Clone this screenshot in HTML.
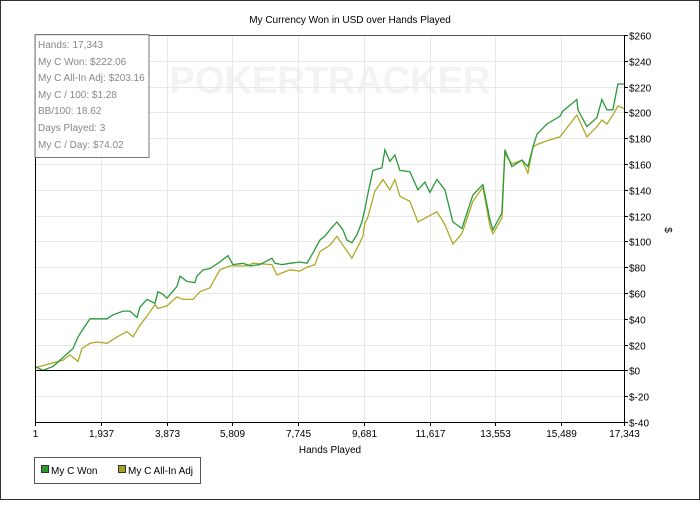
<!DOCTYPE html>
<html><head><meta charset="utf-8"><style>
body{margin:0;background:#fff;}
svg text{font-family:"Liberation Sans",sans-serif;}
</style></head><body>
<svg width="700" height="500" xmlns="http://www.w3.org/2000/svg">
<rect x="0.5" y="0.5" width="699" height="499" fill="#fff" stroke="#333"/>
<text x="350" y="23" font-size="10" text-anchor="middle" fill="#000">My Currency Won in USD over Hands Played</text>
<text x="330" y="93" font-size="38" font-weight="bold" text-anchor="middle" fill="#f3f3f3">POKERTRACKER</text>
<g id="grid"></g>
<g id="series"></g>
<g id="axes"></g>
<g>
<rect x="35" y="34.5" width="114" height="123" fill="#fff" fill-opacity="0.85" stroke="#777"/>
<g font-size="10" fill="#888">
<text x="38" y="48">Hands: 17,343</text>
<text x="38" y="65">My C Won: $222.06</text>
<text x="38" y="81">My C All-In Adj: $203.16</text>
<text x="38" y="98">My C / 100: $1.28</text>
<text x="38" y="114">BB/100: 18.62</text>
<text x="38" y="131">Days Played: 3</text>
<text x="38" y="148">My C / Day: $74.02</text>
</g></g>
<text x="330" y="453" font-size="10" text-anchor="middle">Hands Played</text>
<text x="665" y="230" font-size="10" text-anchor="middle" transform="rotate(90 665 230)">$</text>
<g>
<rect x="34.5" y="457.5" width="166" height="26" fill="#fff" stroke="#555"/>
<g><rect x="41.5" y="465.5" width="7" height="7" fill="#2a9a2a" stroke="#333"/><text x="51" y="474" font-size="10">My C Won</text></g>
<g><rect x="118.5" y="465.5" width="7" height="7" fill="#a3a320" stroke="#333"/><text x="128" y="474" font-size="10">My C All-In Adj</text></g>
</g>
</svg>
<script>
const wonHands=[1,236,530,824,1119,1266,1413,1619,1914,2120,2296,2591,2797,3003,3091,3297,3533,3621,3768,3886,4180,4269,4475,4710,4769,4946,5152,5446,5682,5829,6124,6330,6624,6977,7066,7272,7507,7802,8008,8184,8390,8538,8685,8891,9068,9185,9332,9480,9627,9715,9803,9950,10216,10304,10451,10598,10746,11040,11275,11481,11629,11835,12070,12306,12571,12895,13189,13395,13484,13749,13837,14043,14338,14514,14661,14779,15074,15456,15545,15957,15986,16251,16545,16692,16840,17016,17163,17343];
const wonValues=[3,0,3,10,17,26,32,40,40,40,43,46,46,41,49,55,52,61,59,56,65,73,69,68,73,78,79,84,89,82,83,81,82,87,83,82,83,84,83,91,101,104,109,115,109,101,99,105,115,125,137,155,157,171,162,167,155,154,140,146,138,148,140,115,110,136,144,117,109,122,171,158,163,158,173,183,191,197,201,210,202,189,196,210,202,202,222,222];
const allInHands=[1,824,1030,1266,1384,1619,1825,2120,2414,2708,2885,3091,3297,3533,3621,3886,4180,4357,4652,4858,5152,5446,5741,6241,6418,6977,7124,7507,7802,8008,8243,8390,8685,8891,9068,9332,9568,9656,9715,9803,10010,10245,10451,10598,10746,11040,11275,11629,11835,12070,12306,12571,12895,13189,13395,13484,13749,13837,14043,14338,14514,14661,14779,15074,15456,15957,16251,16545,16692,16840,17016,17163,17343];
const allInValues=[2,8,12,7,17,21,22,21,26,30,26,35,42,51,48,50,57,55,55,61,64,78,81,81,83,82,74,78,77,80,82,92,97,104,97,87,99,104,114,119,139,148,140,148,135,131,115,120,123,113,98,106,131,142,112,106,118,168,160,163,153,173,175,178,181,198,181,189,194,191,198,205,203];
const xTicks=[1,1937,3873,5809,7745,9681,11617,13553,15489,17343];
const xTickLabels=["1","1,937","3,873","5,809","7,745","9,681","11,617","13,553","15,489","17,343"];
const yTicks=[-40,-20,0,20,40,60,80,100,120,140,160,180,200,220,240,260];

const L=35,R=624,T=35,B=422,XMIN=1,XMAX=17343,YMIN=-40,YMAX=260;
const xs=h=>L+(h-XMIN)/(XMAX-XMIN)*(R-L);
const ys=v=>B-(v-YMIN)/(YMAX-YMIN)*(B-T);
const NS="http://www.w3.org/2000/svg";
function mk(tag,attrs,parent){const e=document.createElementNS(NS,tag);for(const k in attrs)e.setAttribute(k,attrs[k]);parent.appendChild(e);return e;}
const grid=document.getElementById('grid'),axes=document.getElementById('axes'),series=document.getElementById('series');
xTicks.forEach((t,i)=>{const x=Math.round(xs(t))+0.5;
 const g=mk('line',{x1:x,x2:x,y1:T,y2:B,stroke:'#e8e8e8'},grid);
 
 
 mk('line',{x1:x,x2:x,y1:B,y2:B+4,stroke:'#000'},axes);
 const tx=mk('text',{x:x,y:B+15,'font-size':10,'text-anchor':'middle'},axes);tx.textContent=xTickLabels[i];
 
 
});
yTicks.forEach(t=>{const y=Math.round(ys(t))+0.5;
 const g=mk('line',{x1:L,x2:R,y1:y,y2:y,stroke:t===0?'#000':'#e8e8e8'},t===0?axes:grid);
 
 
 mk('line',{x1:R,x2:R+4,y1:y,y2:y,stroke:'#000'},axes);
 const tx=mk('text',{x:R+5,y:y+4,'font-size':10},axes);tx.textContent=(t<0?'$-'+(-t):'$'+t);
 
 
});
mk('line',{x1:L+0.5,x2:L+0.5,y1:T,y2:B,stroke:'#000'},axes);
mk('line',{x1:L,x2:R,y1:B+0.5,y2:B+0.5,stroke:'#000'},axes);
mk('line',{x1:R+0.5,x2:R+0.5,y1:T,y2:B,stroke:'#000'},axes);
mk('line',{x1:L,x2:R,y1:T+0.5,y2:T+0.5,stroke:'#555'},axes);
function line(hs,vals,color,name){const p=mk('polyline',{points:hs.map((h,i)=>xs(h).toFixed(1)+','+ys(vals[i]).toFixed(1)).join(' '),fill:'none',stroke:color,'stroke-width':1.3},series);
 
 }
line(allInHands,allInValues,'#b0a828','series-all-in-adj');
line(wonHands,wonValues,'#2a9a3a','series-won');
</script>
</body></html>
